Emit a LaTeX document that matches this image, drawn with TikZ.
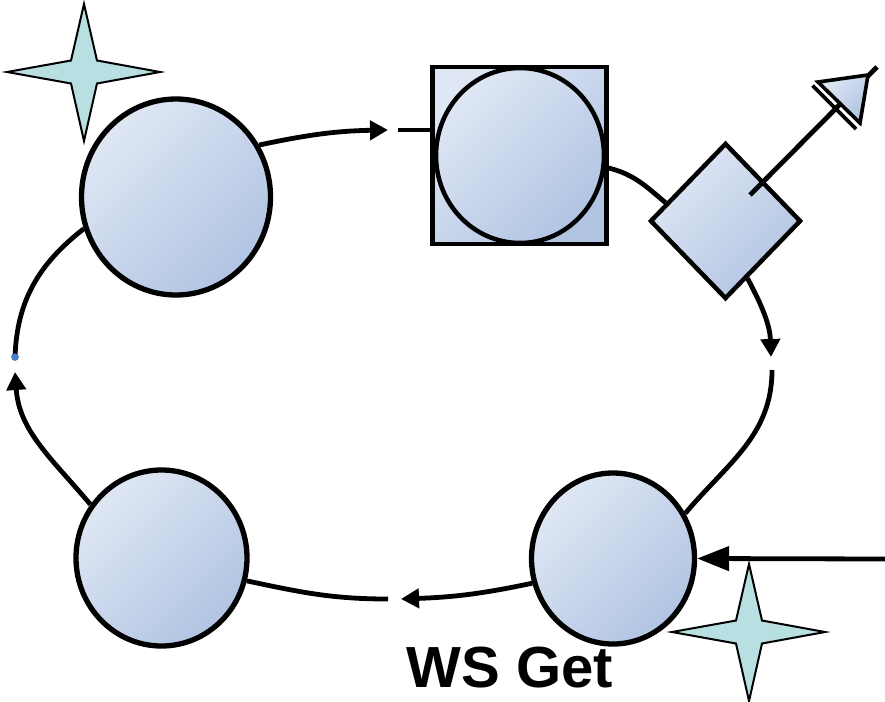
\documentclass[tikz,border=0pt]{standalone}
\usepackage{fontspec}
\newfontfamily\labelfont{Liberation Sans}
\usetikzlibrary{shapes.geometric,arrows.meta}
\definecolor{blight}{HTML}{DFE7F4}
\definecolor{bdark}{HTML}{B1C4E2}
\definecolor{starfill}{HTML}{B8E0E3}
\definecolor{dotblue}{HTML}{4A7CC9}
\tikzset{
  bshade/.style={top color=blight, bottom color=bdark, shading angle=45},
  ball/.style={ellipse, draw=black, bshade, inner sep=0pt, line width=5.3pt},
  conn/.style={draw=black, line width=4.8pt},
  smalltip/.style={-{Triangle[length=18pt,width=19pt]}},
  bigtip/.style={-{Triangle[length=32pt,width=24pt]}},
  fourstar/.pic={
    \draw[fill=starfill, line width=2pt, line join=miter]
      (0,68) -- (13,11.5) -- (76,0) -- (13,-11.5) -- (0,-69) -- (-13,-11.5) -- (-77,0) -- (-13,11.5) -- cycle;
  }
}
\begin{document}
\begin{tikzpicture}[x=1pt, y=1pt]
\useasboundingbox (0,0) rectangle (885,-701);

% stars
\pic at (84,-72) {fourstar};
\pic at (749,-632) {fourstar};

% nodes
\node[ball, minimum width=189pt, minimum height=196pt] (c1) at (176,-197) {};
\node[ball, minimum width=171pt, minimum height=176pt] (c3) at (161.5,-558) {};
\node[ball, minimum width=163pt, minimum height=171pt] (c4) at (613,-558.5) {};
\node[rectangle, draw=black, line width=4.5pt, bshade, inner sep=0pt,
      minimum width=174pt, minimum height=177pt] (sq) at (519.5,-155.5) {};
\node[ball, line width=4.5pt, minimum width=168pt, minimum height=175pt] (sqc) at (520,-155.5) {};
\node[diamond, draw=black, line width=4.5pt, bshade, inner sep=0pt, aspect=0.97,
      minimum width=151pt, minimum height=156pt] (dia) at (725.5,-221) {};

% gap coordinates
\coordinate (g1a) at (388,-130);
\coordinate (g1b) at (398,-130);
\coordinate (g2a) at (771,-357);
\coordinate (g2b) at (772,-370);
\coordinate (g3a) at (401,-599);
\coordinate (g3b) at (388,-599);
\coordinate (g4a) at (15,-372);
\coordinate (rin) at (885,-559);
\coordinate (dstart) at (750,-195);
\coordinate (dend) at (877,-67);

% connectors
\draw[conn, smalltip] (c1.32) to[out=12, in=181] (g1a);
\draw[conn] (g1b) -- (g1b -| sq.west);
\draw[conn] (sq.-8) to[out=-14, in=140] (dia.163);
\draw[conn, smalltip] (dia.-69) to[out=-62, in=92] (g2a);
\draw[conn] (g2b) to[out=-90, in=50] (c4.32);
\draw[conn, bigtip] (rin) -- (c4.east);
\draw[conn, smalltip] (c4.197) to[out=192, in=2] (g3a);
\draw[conn] (g3b) to[out=180, in=-12] (c3.-15);
\draw[conn, smalltip] (c3.143) to[out=130, in=-86] (g4a);
\node[circle, fill=dotblue, inner sep=0pt, minimum size=7.5pt] (dot) at (15,-357) {};
\draw[conn] (dot.center) to[out=88, in=218] (c1.199);
\fill[dotblue] (dot.center) circle (3.7pt);
\draw[conn] (dstart) -- (dend);

% open-triangle head
\draw[bshade, draw=black, line width=3.6pt, line join=miter] (818,-82) -- (868,-75) -- (860,-123) -- cycle;
\draw[line width=3.8pt] (812.5,-85.5) -- (856,-129);

% label
\node[font=\labelfont\bfseries\fontsize{58}{60}\selectfont, anchor=base, inner sep=0pt] (lbl) at (510,-687) {WS Get};
\end{tikzpicture}
\end{document}
